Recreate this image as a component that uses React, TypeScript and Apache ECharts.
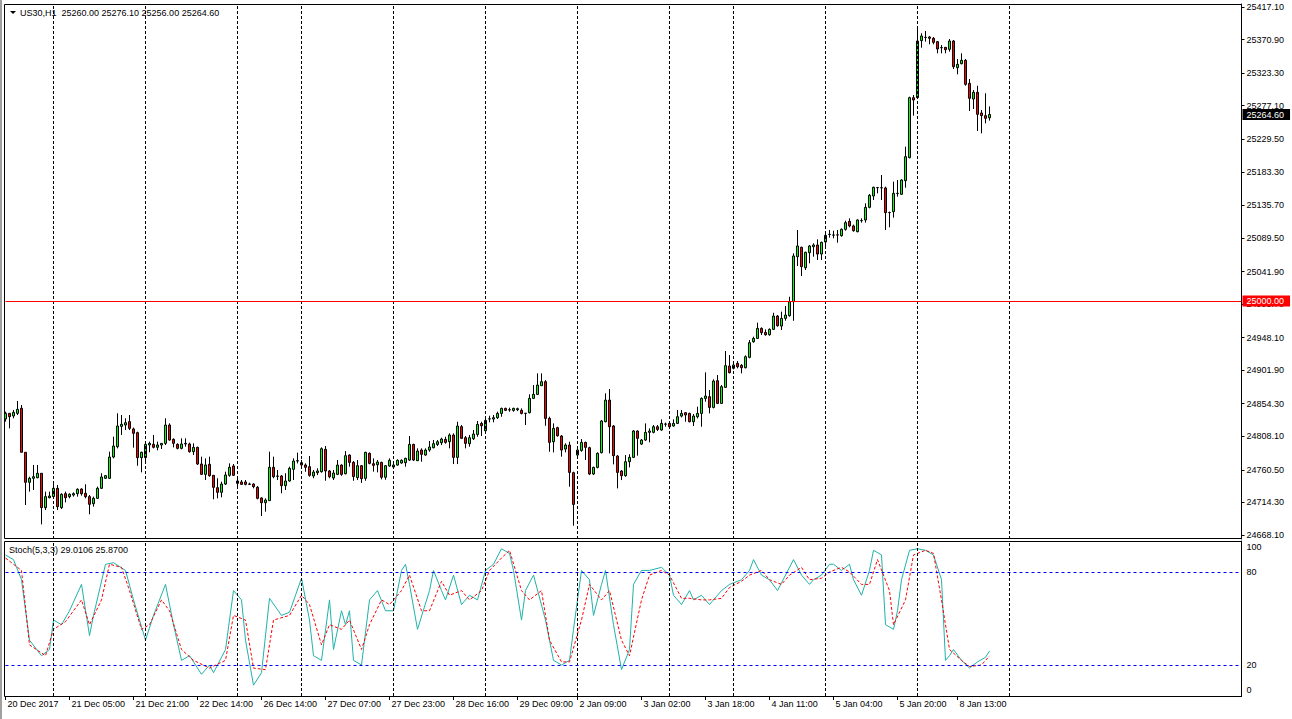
import React, { useEffect, useRef } from 'react';
import * as echarts from 'echarts';

const FONT = '"Liberation Sans", Arial, sans-serif';

// [open, high, low, close] per hourly bar
const ohlc: number[][] = [
  [24832.7, 24843.1, 24828.9, 24840.7], [24840.7, 24840.7, 24819.4, 24836.0], [24836.9, 24845.4, 24833.6, 24842.1], [24840.7, 24858.2, 24838.3, 24846.4],
  [24847.8, 24852.5, 24785.4, 24785.4], [24785.4, 24785.4, 24710.6, 24742.8], [24742.8, 24750.8, 24729.6, 24748.5], [24748.5, 24767.4, 24731.9, 24750.8],
  [24749.4, 24767.4, 24748.5, 24755.6], [24755.6, 24755.6, 24683.2, 24706.9], [24706.9, 24729.6, 24703.5, 24722.5], [24721.0, 24729.6, 24720.1, 24723.4],
  [24722.5, 24741.4, 24720.1, 24734.3], [24734.3, 24739.0, 24703.5, 24708.3], [24706.9, 24727.2, 24705.0, 24725.8], [24726.7, 24729.6, 24714.4, 24721.0],
  [24722.5, 24727.2, 24720.1, 24725.8], [24724.8, 24728.6, 24722.5, 24726.7], [24726.7, 24734.3, 24722.5, 24732.9], [24733.3, 24734.3, 24723.9, 24726.7],
  [24727.2, 24740.0, 24720.1, 24722.5], [24722.5, 24724.8, 24697.4, 24711.6], [24712.5, 24722.5, 24708.3, 24720.1], [24720.1, 24736.7, 24719.2, 24734.3],
  [24734.3, 24755.6, 24733.3, 24750.4], [24748.5, 24753.2, 24747.5, 24752.3], [24748.5, 24786.3, 24747.5, 24778.7], [24778.7, 24807.6, 24776.8, 24794.3],
  [24793.4, 24840.7, 24791.0, 24822.7], [24822.2, 24838.3, 24810.0, 24825.1], [24824.1, 24833.6, 24817.0, 24827.4], [24828.9, 24838.3, 24817.0, 24819.4],
  [24818.5, 24820.4, 24792.0, 24812.3], [24813.3, 24814.7, 24766.4, 24777.8], [24777.8, 24786.3, 24757.0, 24785.4], [24777.8, 24800.5, 24772.1, 24796.7],
  [24795.8, 24800.5, 24785.4, 24798.1], [24796.7, 24810.0, 24791.0, 24792.5], [24792.5, 24800.5, 24788.2, 24795.8], [24795.8, 24798.1, 24790.1, 24798.1],
  [24798.1, 24833.6, 24795.7, 24824.1], [24824.1, 24826.5, 24801.9, 24802.8], [24803.8, 24805.2, 24792.4, 24798.1], [24796.7, 24798.1, 24789.6, 24791.0],
  [24791.0, 24805.2, 24789.6, 24797.2], [24797.2, 24805.2, 24793.4, 24798.1], [24797.2, 24799.1, 24784.9, 24786.3], [24786.3, 24798.1, 24781.6, 24792.4],
  [24792.4, 24793.4, 24767.4, 24768.8], [24768.8, 24779.2, 24753.2, 24754.1], [24754.1, 24776.8, 24746.1, 24767.4], [24768.3, 24779.2, 24750.8, 24752.2],
  [24752.7, 24753.2, 24718.7, 24735.7], [24735.2, 24748.5, 24720.1, 24728.6], [24728.6, 24743.7, 24721.5, 24740.4], [24740.4, 24757.9, 24739.0, 24753.2],
  [24752.7, 24769.7, 24750.8, 24764.1], [24766.0, 24768.8, 24751.8, 24752.7], [24744.7, 24748.5, 24737.6, 24741.4], [24743.3, 24746.1, 24739.0, 24739.9],
  [24743.3, 24746.1, 24738.5, 24739.9], [24740.4, 24742.3, 24739.0, 24740.0], [24740.4, 24741.4, 24734.3, 24736.6], [24735.7, 24737.6, 24718.7, 24720.1],
  [24720.6, 24721.5, 24695.0, 24713.9], [24713.9, 24720.1, 24701.2, 24717.7], [24716.8, 24786.3, 24716.8, 24764.1], [24764.1, 24779.2, 24748.5, 24750.8],
  [24751.3, 24760.3, 24746.1, 24751.8], [24751.8, 24753.2, 24727.2, 24738.1], [24738.1, 24755.6, 24731.9, 24744.7], [24744.7, 24765.0, 24743.7, 24762.6],
  [24761.2, 24776.8, 24746.1, 24773.0], [24773.0, 24784.9, 24769.7, 24773.5], [24770.7, 24774.5, 24766.0, 24767.4], [24767.4, 24769.7, 24757.9, 24764.1],
  [24765.0, 24780.1, 24750.8, 24752.7], [24751.8, 24760.3, 24748.5, 24757.4], [24756.5, 24762.6, 24753.2, 24758.9], [24757.9, 24792.4, 24756.5, 24790.5],
  [24789.6, 24794.3, 24745.1, 24758.9], [24758.9, 24760.3, 24748.5, 24750.8], [24748.9, 24760.3, 24746.1, 24756.0], [24754.1, 24774.4, 24753.1, 24767.3],
  [24767.3, 24768.3, 24752.0, 24754.1], [24755.0, 24787.2, 24754.1, 24780.6], [24781.5, 24782.5, 24765.0, 24771.1], [24771.1, 24773.0, 24745.0, 24751.0],
  [24749.5, 24774.4, 24746.0, 24766.4], [24766.4, 24767.3, 24742.0, 24748.0], [24748.5, 24786.2, 24745.0, 24785.3], [24783.9, 24785.3, 24768.3, 24769.7],
  [24769.2, 24776.8, 24757.9, 24766.9], [24767.8, 24774.4, 24756.9, 24771.6], [24771.1, 24772.1, 24747.0, 24750.0], [24750.0, 24767.3, 24746.5, 24766.4],
  [24765.9, 24776.8, 24765.0, 24774.0], [24764.5, 24769.7, 24761.7, 24767.3], [24767.3, 24775.4, 24766.4, 24774.0], [24770.2, 24775.4, 24769.2, 24774.0],
  [24770.6, 24777.7, 24765.0, 24776.8], [24774.4, 24808.5, 24773.0, 24796.6], [24796.6, 24797.6, 24773.0, 24774.4], [24773.5, 24791.0, 24773.0, 24787.2],
  [24788.6, 24791.0, 24772.1, 24782.5], [24781.5, 24791.0, 24780.6, 24788.6], [24788.6, 24801.4, 24786.2, 24792.9], [24791.9, 24802.8, 24791.0, 24797.6],
  [24796.6, 24802.8, 24794.3, 24800.4], [24799.0, 24806.1, 24795.7, 24804.2], [24803.7, 24807.5, 24797.6, 24799.5], [24800.4, 24812.3, 24791.0, 24809.9],
  [24809.9, 24812.3, 24768.7, 24778.2], [24778.2, 24828.8, 24768.7, 24822.7], [24821.7, 24824.1, 24804.2, 24805.2], [24806.1, 24808.5, 24791.0, 24798.1],
  [24797.6, 24809.9, 24793.3, 24806.1], [24804.7, 24817.0, 24802.8, 24811.3], [24810.8, 24829.8, 24807.5, 24825.0], [24826.4, 24828.8, 24808.5, 24823.1],
  [24816.0, 24833.5, 24814.6, 24830.7], [24832.6, 24837.3, 24827.9, 24832.9], [24832.6, 24838.3, 24827.9, 24834.5], [24834.5, 24843.0, 24832.6, 24840.6],
  [24840.6, 24848.7, 24835.9, 24847.7], [24847.7, 24848.7, 24843.9, 24844.9], [24845.8, 24848.7, 24843.0, 24845.5], [24844.9, 24848.7, 24843.0, 24847.7],
  [24845.8, 24848.7, 24843.9, 24847.3], [24844.9, 24847.7, 24839.2, 24840.6], [24840.8, 24840.8, 24824.1, 24840.6], [24841.6, 24867.6, 24840.6, 24861.9],
  [24861.9, 24880.8, 24861.0, 24867.6], [24867.6, 24897.4, 24866.6, 24880.8], [24879.9, 24897.4, 24879.9, 24885.6], [24885.6, 24887.9, 24823.1, 24833.5],
  [24833.5, 24835.9, 24786.2, 24799.5], [24800.4, 24826.4, 24785.3, 24819.3], [24820.3, 24821.7, 24807.5, 24808.9], [24808.5, 24809.9, 24779.2, 24788.6],
  [24790.0, 24798.1, 24785.3, 24795.7], [24795.7, 24800.4, 24736.6, 24756.9], [24756.5, 24757.9, 24681.3, 24711.5], [24781.5, 24791.0, 24779.2, 24788.6],
  [24788.1, 24804.2, 24786.2, 24799.5], [24799.5, 24800.4, 24774.4, 24792.4], [24791.9, 24793.3, 24753.1, 24754.6], [24754.6, 24765.0, 24753.1, 24764.0],
  [24764.0, 24785.3, 24762.6, 24783.9], [24784.8, 24831.2, 24783.9, 24829.8], [24828.8, 24869.0, 24827.9, 24859.5], [24859.5, 24875.2, 24783.9, 24821.7],
  [24822.7, 24824.1, 24768.3, 24780.6], [24780.1, 24781.5, 24734.2, 24756.9], [24758.8, 24760.2, 24746.0, 24752.2], [24752.2, 24781.5, 24750.8, 24772.1],
  [24772.1, 24782.5, 24764.0, 24778.2], [24778.2, 24817.0, 24777.7, 24815.6], [24815.6, 24816.5, 24780.6, 24805.2], [24797.1, 24804.2, 24795.7, 24802.8],
  [24802.8, 24826.4, 24801.4, 24813.7], [24813.7, 24819.3, 24799.5, 24815.6], [24813.7, 24824.1, 24812.3, 24821.7], [24821.7, 24824.1, 24815.6, 24817.9],
  [24817.0, 24832.1, 24816.0, 24826.4], [24825.3, 24827.4, 24821.7, 24825.5], [24826.4, 24827.4, 24820.8, 24821.7], [24822.7, 24832.1, 24821.7, 24826.4],
  [24826.4, 24845.4, 24825.5, 24835.9], [24836.8, 24845.4, 24835.0, 24840.6], [24841.6, 24842.5, 24828.8, 24838.3], [24840.6, 24841.6, 24827.9, 24828.8],
  [24828.8, 24839.7, 24822.7, 24836.8], [24835.9, 24850.1, 24833.5, 24840.6], [24840.6, 24863.3, 24821.7, 24861.9], [24861.9, 24898.8, 24857.2, 24865.2],
  [24864.3, 24873.7, 24840.6, 24849.1], [24849.1, 24888.9, 24847.7, 24886.5], [24887.0, 24895.0, 24853.9, 24854.8], [24854.8, 24880.8, 24853.9, 24878.5],
  [24877.5, 24929.1, 24876.6, 24908.3], [24907.8, 24923.4, 24897.4, 24898.3], [24904.5, 24910.6, 24903.0, 24909.2], [24911.6, 24914.9, 24904.5, 24906.8],
  [24908.7, 24910.6, 24897.4, 24905.4], [24905.4, 24922.9, 24904.5, 24921.0], [24920.1, 24944.7, 24918.7, 24940.9], [24942.3, 24949.4, 24940.9, 24947.0],
  [24947.0, 24969.3, 24946.1, 24961.2], [24961.2, 24962.6, 24951.8, 24955.1], [24955.5, 24959.8, 24950.8, 24952.2], [24952.2, 24961.2, 24950.8, 24959.8],
  [24959.8, 24983.4, 24958.9, 24978.7], [24978.7, 24980.1, 24963.6, 24965.0], [24964.5, 24984.9, 24958.9, 24975.4], [24975.4, 24992.9, 24972.1, 24980.1],
  [24979.2, 25006.1, 24977.8, 24999.0], [24999.0, 25067.7, 24972.0, 25063.9], [25062.9, 25100.8, 25049.7, 25078.1], [25076.2, 25077.1, 25035.5, 25048.8],
  [25047.3, 25070.0, 25044.0, 25069.1], [25068.6, 25079.5, 25053.5, 25078.1], [25077.1, 25081.9, 25062.9, 25079.5], [25079.5, 25087.5, 25058.2, 25066.7],
  [25066.7, 25084.2, 25058.2, 25083.3], [25083.8, 25096.1, 25077.1, 25093.2], [25094.4, 25100.8, 25089.9, 25094.6], [25093.5, 25099.8, 25089.0, 25093.7],
  [25093.7, 25100.8, 25082.8, 25093.9], [25092.7, 25103.1, 25091.3, 25101.7], [25101.7, 25114.0, 25099.8, 25111.2], [25113.1, 25117.3, 25104.6, 25106.5],
  [25106.5, 25108.4, 25098.4, 25099.8], [25098.4, 25115.9, 25097.5, 25115.0], [25114.0, 25117.3, 25111.2, 25114.2], [25115.0, 25138.6, 25111.2, 25132.9],
  [25132.9, 25151.9, 25131.5, 25150.0], [25149.0, 25162.3, 25143.3, 25161.3], [25160.8, 25161.3, 25152.8, 25161.0], [25160.6, 25178.8, 25143.3, 25160.8],
  [25160.4, 25162.3, 25100.8, 25125.4], [25125.4, 25126.8, 25104.6, 25125.6], [25126.8, 25169.4, 25118.3, 25152.8], [25152.6, 25171.7, 25148.1, 25152.8],
  [25151.4, 25172.7, 25150.4, 25171.7], [25170.8, 25219.0, 25160.8, 25204.8], [25203.4, 25289.9, 25202.4, 25288.5], [25288.5, 25292.3, 25263.0, 25285.2],
  [25288.5, 25386.9, 25288.5, 25368.9], [25369.4, 25379.8, 25359.4, 25376.0], [25374.0, 25383.1, 25368.0, 25374.1], [25374.6, 25376.0, 25364.2, 25372.7],
  [25372.7, 25374.6, 25364.2, 25367.0], [25368.0, 25368.9, 25351.4, 25357.6], [25359.4, 25363.2, 25351.4, 25359.6], [25359.9, 25360.4, 25351.4, 25356.6],
  [25357.1, 25371.7, 25353.8, 25368.9], [25368.9, 25370.3, 25329.2, 25332.5], [25331.1, 25343.4, 25321.6, 25335.8], [25336.7, 25351.4, 25335.8, 25341.5],
  [25341.5, 25343.4, 25305.5, 25307.4], [25308.8, 25315.0, 25269.6, 25287.6], [25286.6, 25299.4, 25272.4, 25296.1], [25296.1, 25305.5, 25241.2, 25264.9],
  [25266.8, 25271.0, 25237.9, 25263.0], [25263.0, 25294.7, 25252.1, 25259.2], [25260.0, 25276.1, 25256.0, 25264.6],
];

// Stochastic(5,3,3) main line (%K), read as [bar index, value]
const stochK: number[][] = [
  [0, 91], [2, 88], [4, 75], [6, 36], [9, 26], [11, 30], [12, 49], [14, 46], [16, 55], [19, 72], [21, 39], [22, 52], [25, 85], [27, 86],
  [30, 81], [32, 62], [35, 36], [37, 52], [40, 72], [42, 46], [44, 23], [46, 26], [49, 14], [51, 20], [52, 15], [55, 30], [57, 68], [59, 62],
  [60, 36], [62, 7], [64, 15], [66, 63], [69, 52], [71, 54], [74, 76], [76, 49], [77, 26], [79, 23], [81, 62], [82, 30], [84, 55], [85, 46],
  [86, 55], [87, 23], [89, 20], [91, 62], [93, 68], [95, 55], [97, 55], [99, 81], [100, 85], [101, 72], [103, 43], [106, 68], [107, 81],
  [109, 68], [110, 62], [112, 78], [114, 59], [116, 65], [118, 62], [120, 81], [122, 85], [124, 95], [126, 92], [127, 81], [129, 49],
  [130, 68], [132, 78], [135, 49], [137, 23], [139, 20], [141, 23], [142, 43], [144, 81], [146, 75], [147, 52], [149, 72], [150, 81],
  [152, 46], [154, 17], [156, 30], [157, 72], [159, 81], [161, 81], [164, 83], [166, 78], [167, 65], [169, 59], [171, 68], [172, 62],
  [174, 65], [176, 59], [177, 62], [179, 68], [181, 72], [184, 75], [186, 81], [187, 88], [189, 78], [191, 75], [193, 68], [195, 78],
  [197, 88], [199, 78], [201, 72], [202, 75], [204, 78], [206, 85], [207, 85], [209, 81], [211, 85], [212, 75], [214, 65], [216, 81],
  [217, 94], [219, 91], [220, 46], [222, 43], [223, 55], [224, 75], [226, 94], [228, 95], [230, 94], [232, 91], [234, 75], [235, 23],
  [236, 26], [237, 30], [239, 23], [241, 18], [243, 22], [245, 25], [246, 29],
];
// Stochastic signal line (%D), read as [bar index, value]
const stochD: number[][] = [
  [0, 89], [4, 81], [6, 33], [10, 26], [12, 43], [15, 48], [19, 62], [21, 46], [24, 62], [26, 85], [29, 83], [31, 68], [34, 43], [36, 46],
  [39, 62], [41, 55], [44, 30], [47, 23], [51, 18], [55, 23], [57, 52], [60, 49], [62, 18], [65, 17], [67, 49], [71, 52], [74, 65], [76, 59],
  [79, 33], [81, 46], [84, 43], [86, 49], [89, 30], [91, 46], [94, 62], [96, 59], [99, 68], [101, 78], [104, 55], [106, 55], [109, 74],
  [111, 65], [114, 68], [116, 62], [119, 68], [121, 81], [124, 89], [126, 94], [129, 68], [131, 62], [134, 68], [136, 36], [139, 22],
  [141, 22], [144, 49], [146, 72], [149, 62], [151, 68], [154, 36], [156, 26], [159, 62], [161, 78], [164, 81], [166, 78], [169, 63],
  [171, 63], [174, 62], [176, 62], [179, 63], [181, 70], [184, 74], [186, 78], [189, 81], [191, 75], [194, 72], [196, 78], [199, 83],
  [201, 75], [204, 76], [206, 80], [209, 83], [211, 80], [214, 72], [216, 72], [218, 88], [221, 68], [222, 46], [225, 62], [227, 91],
  [230, 94], [232, 92], [234, 62], [236, 30], [239, 23], [241, 19], [244, 20], [246, 25.87],
];

const priceTicks = [25417.1, 25370.9, 25323.3, 25277.1, 25229.5, 25183.3, 25135.7, 25089.5, 25041.9, 24995.7, 24948.1, 24901.9, 24854.3, 24808.1, 24760.5, 24714.3, 24668.1];
const stochTicks = [0, 20, 80, 100];
const stochLevels = [20, 80];
const timeLabelIdx = [0, 16, 32, 48, 64, 80, 96, 112, 128, 143, 159, 175, 191, 207, 223, 238];
const timeLabelText = ['20 Dec 2017', '21 Dec 05:00', '21 Dec 21:00', '22 Dec 14:00', '26 Dec 14:00', '27 Dec 07:00', '27 Dec 23:00', '28 Dec 16:00', '29 Dec 09:00', '2 Jan 09:00', '3 Jan 02:00', '3 Jan 18:00', '4 Jan 11:00', '5 Jan 04:00', '5 Jan 20:00', '8 Jan 13:00'];
const gridLineIdx = [12, 35, 58, 74, 97, 120, 143, 166, 182, 205, 228, 251];
const levelLine = 25000;
const lastPrice = 25264.6;
const headerText = 'US30,H1  25260.00 25276.10 25256.00 25264.60';
const stochHeader = 'Stoch(5,3,3) 29.0106 25.8700';
const SLOTS = 310;

export default function App() {
  const ref = useRef<HTMLDivElement>(null);
  useEffect(() => {
    const chart = echarts.init(ref.current!, null, { renderer: 'svg' });
    const cats = Array.from({ length: SLOTS }, (_, i) => String(i));
    const labelMap = new Map<number, string>(timeLabelIdx.map((idx, k) => [idx, timeLabelText[k]]));
    const candleData = ohlc.map(([o, h, l, c]) => [o, c, l, h]);
    const dash = { color: '#000', width: 1, type: [3, 2] as any };
    const vLines = gridLineIdx.map((i) => ({ xAxis: i, lineStyle: dash }));
    const option: any = {
      animation: false,
      backgroundColor: '#fff',
      textStyle: { fontFamily: FONT },
      grid: [
        { left: 5.5, top: 4, width: 1236, height: 535, show: false },
        { left: 5.5, top: 541, width: 1236, height: 155, show: false },
      ],
      xAxis: [
        {
          type: 'category', gridIndex: 0, data: cats, boundaryGap: false,
          axisLine: { show: false }, axisTick: { show: false }, axisLabel: { show: false }, splitLine: { show: false },
        },
        {
          type: 'category', gridIndex: 1, data: cats, boundaryGap: false,
          axisLine: { show: true, lineStyle: { color: '#000', width: 1 } },
          axisTick: { show: true, length: 4, interval: (i: number) => labelMap.has(i), lineStyle: { color: '#000' } },
          axisLabel: {
            show: true, interval: (i: number) => labelMap.has(i), formatter: (_v: string, i: number) => labelMap.get(i) ?? '',
            align: 'left', margin: 3, fontSize: 9, color: '#000', fontFamily: FONT, padding: [0, 0, 0, 2],
          },
          splitLine: { show: false },
        },
      ],
      yAxis: [
        {
          type: 'value', gridIndex: 0, position: 'right', min: 24662.4, max: 25421.4,
          splitLine: { show: false },
          axisLine: { show: true, lineStyle: { color: '#000' } },
          axisTick: { show: true, length: 3, customValues: priceTicks, lineStyle: { color: '#000' } },
          axisLabel: { customValues: priceTicks, formatter: (v: number) => v.toFixed(2), fontSize: 9, color: '#000', margin: 5, fontFamily: FONT },
        },
        {
          type: 'value', gridIndex: 1, position: 'right', min: 0, max: 100,
          splitLine: { show: false },
          axisLine: { show: true, lineStyle: { color: '#000' } },
          axisTick: { show: false, customValues: stochTicks },
          axisLabel: {
            customValues: stochTicks, fontSize: 9, color: '#000', margin: 5, fontFamily: FONT,
            formatter: (v: number) => (v === 100 ? '{t|100}' : v === 0 ? '{b|0}' : String(v)),
            rich: { t: { padding: [12, 0, 0, 0], fontSize: 9, fontFamily: FONT, color: '#000' }, b: { padding: [0, 0, 12, 0], fontSize: 9, fontFamily: FONT, color: '#000' } },
          },
        },
      ],
      series: [
        {
          type: 'candlestick', xAxisIndex: 0, yAxisIndex: 0, data: candleData, barWidth: 2, clip: false,
          itemStyle: { color: '#00ff00', color0: '#ff0000', borderColor: '#000', borderColor0: '#000', borderColorDoji: '#000', borderWidth: 1 },
          markLine: {
            symbol: 'none', silent: true, animation: false, label: { show: false },
            data: [
              ...vLines,
              {
                yAxis: levelLine, lineStyle: { color: '#ff0000', width: 1, type: 'solid' },
                label: { show: true, position: 'end', distance: 1, formatter: levelLine.toFixed(2), backgroundColor: '#ff0000', color: '#fff', fontSize: 9, fontFamily: FONT, padding: [1, 6, 1, 4] },
              },
              {
                yAxis: lastPrice, lineStyle: { color: 'rgba(0,0,0,0)', width: 0 },
                label: { show: true, position: 'end', distance: 1, formatter: lastPrice.toFixed(2), backgroundColor: '#000', color: '#fff', fontSize: 9, fontFamily: FONT, padding: [1, 6, 1, 4] },
              },
            ],
          },
        },
        {
          type: 'line', xAxisIndex: 1, yAxisIndex: 1, data: stochK, symbol: 'none', clip: false,
          lineStyle: { color: '#20b2aa', width: 1 }, itemStyle: { color: '#20b2aa' },
          markLine: {
            symbol: 'none', silent: true, animation: false, label: { show: false },
            data: [
              ...vLines,
              ...stochLevels.map((v) => ({ yAxis: v, lineStyle: { color: '#0000ff', width: 1, type: [3, 3] } })),
            ],
          },
        },
        {
          type: 'line', xAxisIndex: 1, yAxisIndex: 1, data: stochD, symbol: 'none', clip: false,
          lineStyle: { color: '#ff0000', width: 1, type: [3, 2] }, itemStyle: { color: '#ff0000' },
        },
      ],
      graphic: [
        { type: 'rect', left: 0, top: 0, shape: { width: 2, height: 719 }, style: { fill: '#a0a0a0' }, silent: true },
        { type: 'rect', shape: { x: 4.5, y: 4.5, width: 1237, height: 534 }, style: { fill: 'none', stroke: '#000', lineWidth: 1 }, silent: true, z: 10 },
        { type: 'rect', shape: { x: 4.5, y: 541.5, width: 1237, height: 155 }, style: { fill: 'none', stroke: '#000', lineWidth: 1 }, silent: true, z: 10 },
        { type: 'polygon', shape: { points: [[10, 11], [16, 11], [13, 14]] }, style: { fill: '#000' }, silent: true },
        { type: 'text', x: 20, y: 8, style: { text: headerText, fill: '#000', font: `9px ${FONT}` }, silent: true },
        { type: 'text', x: 9, y: 545, style: { text: stochHeader, fill: '#000', font: `9px ${FONT}` }, silent: true },
      ],
    };
    chart.setOption(option);
    return () => chart.dispose();
  }, []);
  return <div ref={ref} style={{ position: 'fixed', left: 0, top: 0, width: 1292, height: 719, background: '#fff' }} />;
}
